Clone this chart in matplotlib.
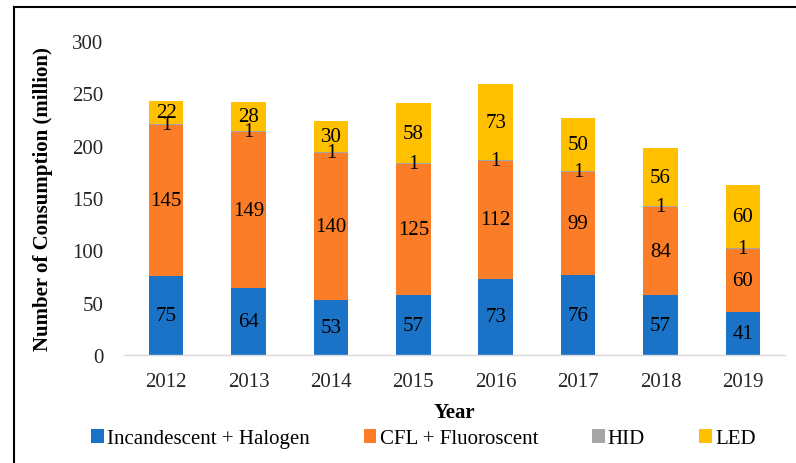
import numpy as np
import matplotlib.pyplot as plt
from matplotlib.lines import Line2D
from matplotlib.patches import Patch

plt.rcParams['font.family'] = ['Liberation Serif', 'DejaVu Serif']

years = ['2012', '2013', '2014', '2015', '2016', '2017', '2018', '2019']
incandescent = [75, 64, 53, 57, 73, 76, 57, 41]
cfl = [145, 149, 140, 125, 112, 99, 84, 60]
hid = [1, 1, 1, 1, 1, 1, 1, 1]
led = [22, 28, 30, 58, 73, 50, 56, 60]

series = [
    ('Incandescent + Halogen', incandescent, '#1B73C8'),
    ('CFL + Fluoroscent', cfl, '#FB7D27'),
    ('HID', hid, '#A5A5A5'),
    ('LED', led, '#FFC000'),
]

fig = plt.figure(figsize=(7.96, 4.64), dpi=100)
ax = fig.add_axes([0.156, 0.2328, 0.830, 0.6767])

x = np.arange(len(years))
bottom = np.zeros(len(years))
for name, vals, color in series:
    vals = np.array(vals)
    ax.bar(x, vals, width=0.42, bottom=bottom, color=color,
           edgecolor='none', label=name)
    for xi, b, v in zip(x, bottom, vals):
        ax.text(xi, b + v / 2, str(v), ha='center', va='center',
                fontsize=15, color='black')
    bottom += vals

ax.set_xlim(-0.51, 7.51)
ax.set_ylim(0, 300)
ax.set_yticks(range(0, 301, 50))
ax.set_xticks(x)
ax.set_xticklabels(years)
ax.tick_params(axis='both', length=0, labelsize=15, colors='#262626')
ax.tick_params(axis='x', pad=12)
ax.tick_params(axis='y', pad=15)
for s in ['top', 'right', 'left']:
    ax.spines[s].set_visible(False)
ax.spines['bottom'].set_color('#D9D9D9')
ax.spines['bottom'].set_linewidth(1)

ax.set_ylabel('Number of Consumption (million)', fontsize=15,
              fontweight='bold', labelpad=14)
ax.set_xlabel('Year', fontsize=15, fontweight='bold', labelpad=8)

handles = [Patch(facecolor=c, edgecolor='none') for _, _, c in series]
fig.legend(handles, [n for n, _, _ in series], loc='center',
           bbox_to_anchor=(0.532, 0.052), ncol=4, frameon=False,
           fontsize=15, handlelength=0.6, handleheight=0.6,
           handletextpad=0.15, columnspacing=2.6)

# outer frame (left and top edges visible)
fig.add_artist(Line2D([0.017, 0.017], [0.0, 0.983], color='black', lw=1.5,
                      transform=fig.transFigure))
fig.add_artist(Line2D([0.017, 1.0], [0.983, 0.983], color='black', lw=1.5,
                      transform=fig.transFigure))

fig.savefig('out.png', dpi=100)
